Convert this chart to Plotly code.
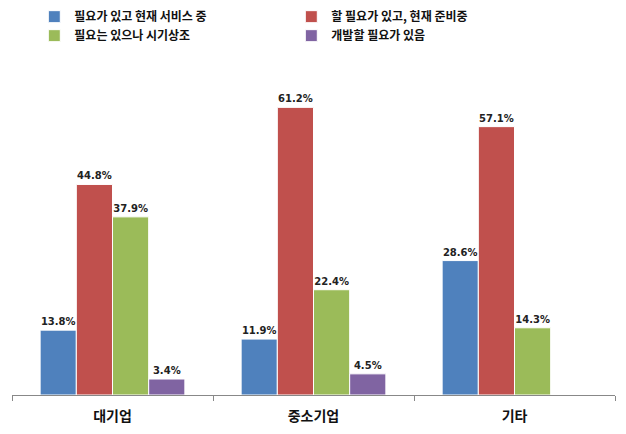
import plotly.graph_objects as go

categories = ["대기업", "중소기업", "기타"]
series_names = ["필요가 있고 현재 서비스 중", "할 필요가 있고, 현재 준비중", "필요는 있으나 시기상조", "개발할 필요가 있음"]
s1 = [13.8, 11.9, 28.6]
s2 = [44.8, 61.2, 57.1]
s3 = [37.9, 22.4, 14.3]
s4 = [3.4, 4.5, None]
colors = ["#4F81BD", "#C0504D", "#9BBB59", "#8064A2"]

fig = go.Figure()
for name, vals, c in zip(series_names, [s1, s2, s3, s4], colors):
    fig.add_trace(go.Bar(
        x=categories, y=vals, name=name,
        marker=dict(color=c, line=dict(color="white", width=1)),
        text=[f"{v:.1f}%" if v is not None else "" for v in vals],
        textposition="outside",
        textfont=dict(family="DejaVu Sans", size=10, color="#222222", weight="bold"),
        cliponaxis=False,
    ))

fig.update_layout(
    width=626, height=434,
    margin=dict(l=12, r=11, t=66, b=39, autoexpand=False),
    barmode="group", bargap=0.28, bargroupgap=0.0,
    plot_bgcolor="white", paper_bgcolor="white",
    font=dict(family="Noto Sans CJK KR", color="#222222"),
    showlegend=True,
    legend=dict(
        orientation="h", x=0.037, y=0.995, yref="container", xanchor="left", yanchor="top",
        entrywidth=212, entrywidthmode="pixels",
        font=dict(family="Noto Sans CJK KR", size=12, color="#111111", weight="bold"),
        itemwidth=30, tracegroupgap=0,
    ),
)
fig.update_xaxes(
    showline=True, linecolor="#888888", linewidth=1,
    ticks="outside", tickson="boundaries", ticklen=5, tickcolor="#888888",
    tickfont=dict(family="Noto Sans CJK KR", size=14, color="#111111", weight="bold"),
    ticklabelstandoff=8,
    showgrid=False,
)
fig.update_yaxes(visible=False, range=[0, 70], showgrid=False, zeroline=False)

fig.write_html("out.html")
